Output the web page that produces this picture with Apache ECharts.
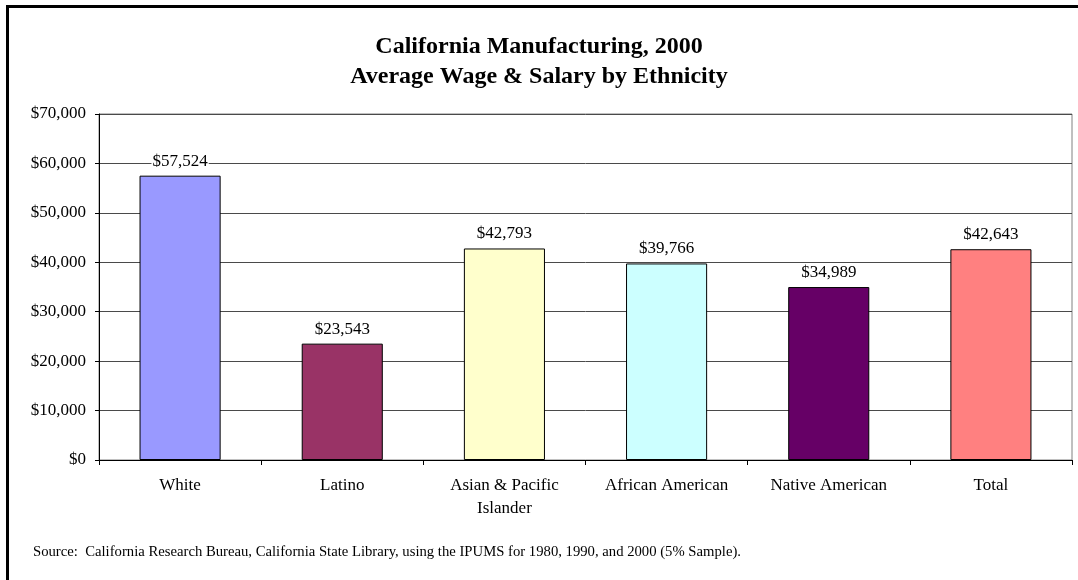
<!DOCTYPE html>
<html>
<head>
<meta charset="utf-8">
<script src="https://cdn.jsdelivr.net/npm/echarts@6/dist/echarts.min.js"></script>
<style>
  html, body { margin: 0; padding: 0; background: #fff; overflow: hidden; }
  #wrap { position: relative; width: 1078px; height: 580px; overflow: hidden; }
  #frame { position: absolute; left: 6px; top: 5px; width: 1200px; height: 700px; border: 3px solid #000; box-sizing: border-box; }
  #chart { position: absolute; left: 0; top: 0; width: 1078px; height: 580px; }
</style>
</head>
<body>
<div id="wrap">
  <div id="frame"></div>
  <div id="chart"></div>
</div>
<script>
// Average wage & salary, California manufacturing, 2000
const categories = ['White', 'Latino', 'Asian & Pacific\nIslander', 'African American', 'Native American', 'Total'];
const wages = [57524, 23543, 42793, 39766, 34989, 42643];
const barColors = ['#9999FF', '#993366', '#FFFFCC', '#CCFFFF', '#660066', '#FF8080'];
const yTicks = [0, 10000, 20000, 30000, 40000, 50000, 60000, 70000];

const serif = '"Liberation Serif", "Times New Roman", serif';
const money = v => '$' + Math.round(v).toLocaleString('en-US');

const chart = echarts.init(document.getElementById('chart'), null, { renderer: 'canvas' });
chart.setOption({
  backgroundColor: 'transparent',
  animation: false,
  title: {
    text: 'California Manufacturing, 2000\nAverage Wage & Salary by Ethnicity',
    left: 'center',
    top: 27,
    textStyle: { fontFamily: serif, fontSize: 24, fontWeight: 'bold', color: '#000', lineHeight: 30 }
  },
  grid: {
    left: 99, right: 6, top: 114, bottom: 120,
    show: true, borderColor: '#808080', borderWidth: 1, backgroundColor: 'transparent'
  },
  xAxis: {
    type: 'category',
    data: categories,
    axisLine: { lineStyle: { color: '#000', width: 1 } },
    axisTick: { show: true, length: 5, lineStyle: { color: '#000' } },
    axisLabel: { fontFamily: serif, fontSize: 17, color: '#000', margin: 14, lineHeight: 23, interval: 0 }
  },
  yAxis: {
    type: 'value',
    min: yTicks[0],
    max: yTicks[yTicks.length - 1],
    interval: yTicks[1] - yTicks[0],
    axisLine: { show: true, lineStyle: { color: '#000', width: 1 } },
    axisTick: { show: true, length: 4, lineStyle: { color: '#000' } },
    axisLabel: { fontFamily: serif, fontSize: 17, color: '#000', margin: 13, formatter: money },
    splitLine: { lineStyle: { color: '#4a4a4a', width: 1 } }
  },
  series: [{
    type: 'bar',
    data: wages.map((v, i) => ({ value: v, itemStyle: { color: barColors[i] } })),
    barCategoryGap: '50%',
    itemStyle: { borderColor: '#000', borderWidth: 1 },
    label: {
      show: true,
      position: 'top',
      distance: 6,
      formatter: p => money(p.value),
      fontFamily: serif, fontSize: 17, color: '#000',
      backgroundColor: '#fff', padding: [0, 1]
    }
  }],
  graphic: [{
    type: 'text',
    left: 33, top: 545,
    style: {
      text: 'Source:  California Research Bureau, California State Library, using the IPUMS for 1980, 1990, and 2000 (5% Sample).',
      font: '14.7px ' + serif, fill: '#000'
    }
  }]
});
</script>
</body>
</html>
